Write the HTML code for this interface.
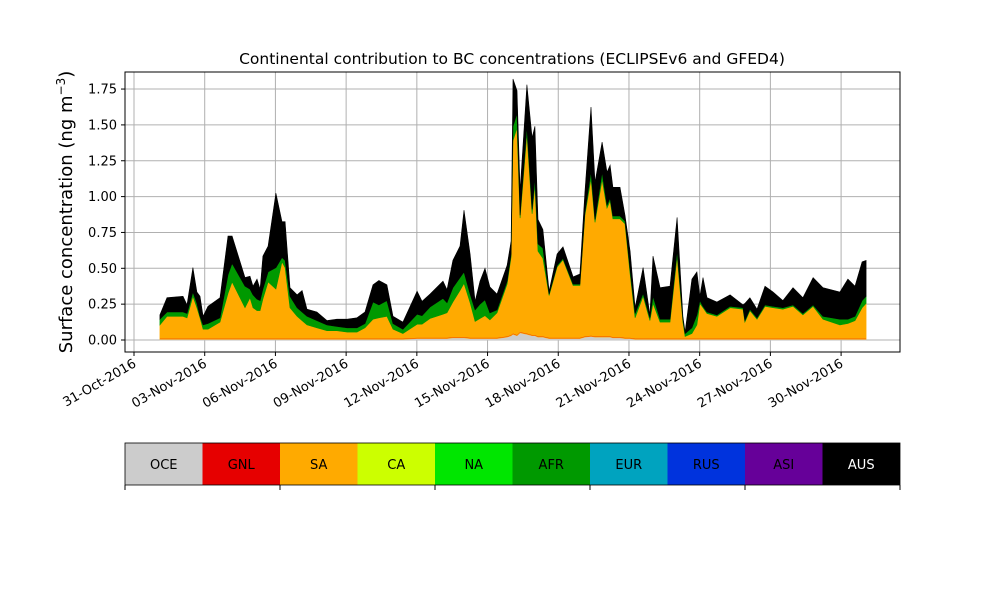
<!DOCTYPE html>
<html><head><meta charset="utf-8"><style>
body{margin:0;background:#fff;}
svg text{font-family:"DejaVu Sans","Liberation Sans",sans-serif;}
</style></head><body>
<svg id="chart" width="1000" height="600" xmlns="http://www.w3.org/2000/svg">
<rect width="1000" height="600" fill="#fff"/>
<text x="512" y="64" text-anchor="middle" font-size="15.5">Continental contribution to BC concentrations (ECLIPSEv6 and GFED4)</text>
<text transform="translate(72,212) rotate(-90)" text-anchor="middle" font-size="18">Surface concentration (ng m<tspan baseline-shift="super" font-size="12">−3</tspan>)</text>
<g id="grid"></g>
<g id="areas"></g>
<g id="axes"></g>
<g id="legend"></g>
</svg>
<script>
const days = [1.10,1.40,2.08,2.25,2.50,2.67,2.80,2.93,3.14,3.65,
3.99,4.16,4.71,4.92,5.05,5.22,5.35,5.47,5.69,6.02,
6.28,6.41,6.62,6.92,7.13,7.34,7.76,8.19,8.61,9.04,
9.46,9.80,10.14,10.39,10.73,10.99,11.41,12.01,12.22,12.56,
13.11,13.28,13.53,13.83,14.00,14.26,14.47,14.68,14.89,15.10,
15.40,15.83,16.00,16.08,16.25,16.38,16.67,16.89,17.01,17.14,
17.35,17.61,17.95,18.20,18.63,18.92,19.13,19.39,19.56,19.86,
20.07,20.20,20.32,20.62,20.83,21.05,21.26,21.60,21.89,22.02,
22.32,22.74,23.04,23.29,23.38,23.67,23.88,24.01,24.14,24.31,
24.73,25.29,25.84,25.92,26.13,26.43,26.77,27.11,27.53,27.96,
28.38,28.81,29.23,29.95,30.29,30.59,30.89,31.06];
const oce = [.005,.005,.005,.005,.005,.005,.005,.005,.005,.005,
.005,.005,.005,.005,.005,.005,.005,.005,.005,.005,
.005,.005,.005,.005,.005,.005,.005,.005,.005,.005,
.005,.005,.005,.005,.005,.005,.005,.01,.01,.01,
.01,.01,.015,.015,.015,.01,.01,.01,.01,.01,
.01,.02,.03,.04,.03,.05,.04,.03,.03,.02,
.02,.01,.01,.01,.01,.01,.02,.025,.02,.02,
.02,.02,.015,.015,.01,.01,.005,.005,.005,.005,
.005,.005,.005,.005,.005,.005,.005,.005,.005,.005,
.005,.005,.005,.005,.005,.005,.005,.005,.005,.005,
.005,.005,.005,.005,.005,.005,.005,.005];
const sa = [.10,.16,.16,.15,.30,.22,.15,.07,.07,.12,
.32,.40,.22,.29,.22,.20,.20,.28,.40,.35,
.54,.50,.22,.16,.13,.10,.08,.06,.06,.05,
.05,.08,.14,.15,.16,.07,.04,.10,.10,.14,
.17,.18,.25,.33,.38,.25,.12,.14,.16,.13,
.18,.37,.55,1.35,1.45,.80,1.40,.85,1.05,.60,
.55,.30,.50,.55,.37,.37,.85,1.10,.80,1.10,
.90,.95,.83,.83,.80,.45,.15,.30,.13,.25,
.12,.12,.58,.12,.02,.04,.10,.25,.22,.18,
.16,.22,.21,.12,.20,.14,.23,.22,.21,.23,
.17,.23,.14,.10,.11,.13,.22,.25];
const afr = [.04,.03,.03,.03,.03,.03,.01,.03,.04,.03,
.13,.13,.15,.06,.09,.08,.07,.07,.07,.15,
.03,.05,.08,.06,.06,.06,.05,.04,.03,.03,
.03,.03,.12,.09,.11,.04,.03,.07,.06,.08,
.11,.07,.10,.09,.08,.06,.08,.10,.11,.05,
.02,.02,.02,.10,.10,.02,.05,.03,.05,.05,
.07,.01,.01,.01,.01,.01,.02,.05,.02,.05,
.02,.02,.02,.02,.02,.03,.03,.02,.02,.05,
.02,.02,.04,.02,.02,.04,.07,.02,.01,.01,
.01,.01,.01,.01,.01,.01,.01,.01,.01,.01,
.01,.01,.02,.04,.03,.03,.05,.05];
const aus = [.03,.10,.11,.06,.17,.08,.14,.06,.12,.14,
.27,.19,.06,.09,.06,.14,.08,.23,.18,.52,
.25,.27,.06,.09,.15,.05,.06,.03,.05,.06,
.07,.08,.12,.17,.11,.05,.05,.16,.10,.09,
.12,.09,.19,.22,.43,.28,.06,.16,.22,.18,
.11,.11,.09,.33,.16,.17,.29,.50,.36,.17,
.13,.02,.08,.08,.05,.07,.14,.45,.26,.21,
.23,.23,.20,.20,.04,.13,.04,.18,.02,.28,
.22,.23,.23,.02,.01,.34,.30,.03,.20,.10,
.09,.08,.02,.12,.08,.06,.13,.10,.05,.12,
.11,.19,.20,.19,.28,.21,.27,.25];
const yTicks = [0,0.25,0.5,0.75,1.0,1.25,1.5,1.75];
const xTickDays = [0,3,6,9,12,15,18,21,24,27,30];
const xTickLabels = ["31-Oct-2016","03-Nov-2016","06-Nov-2016","09-Nov-2016","12-Nov-2016","15-Nov-2016","18-Nov-2016","21-Nov-2016","24-Nov-2016","27-Nov-2016","30-Nov-2016"];
const regions = ["OCE","GNL","SA","CA","NA","AFR","EUR","RUS","ASI","AUS"];
const regionColors = ["#cccccc","#e60000","#ffaa00","#ccff00","#00e600","#009900","#00a3bf","#0033dd","#660099","#000000"];

const NS="http://www.w3.org/2000/svg";
const L=125,R=900,T=72,B=352;
function xs(d){return 134+23.57*d;}
function ys(v){return 340-v*143.4;}
function mk(tag,attrs,parent){const e=document.createElementNS(NS,tag);for(const k in attrs)e.setAttribute(k,attrs[k]);parent.appendChild(e);return e;}
const grid=document.getElementById('grid'),axes=document.getElementById('axes'),areas=document.getElementById('areas'),legend=document.getElementById('legend');

yTicks.forEach(v=>{
  const g=mk('line',{x1:L,x2:R,y1:ys(v),y2:ys(v),stroke:'#b0b0b0','stroke-width':1},grid);
  
  
  mk('line',{x1:L-4,x2:L,y1:ys(v),y2:ys(v),stroke:'#000'},axes);
  const t=mk('text',{x:L-8,y:ys(v)+4.5,'text-anchor':'end','font-size':13},axes);
  t.textContent=v.toFixed(2);
  
  
});
xTickDays.forEach((d,i)=>{
  const x=xs(d);
  const g=mk('line',{x1:x,x2:x,y1:T,y2:B,stroke:'#b0b0b0','stroke-width':1},grid);
  
  
  mk('line',{x1:x,x2:x,y1:B,y2:B+4,stroke:'#000'},axes);
  const t=mk('text',{transform:`translate(${x+3},${B+14}) rotate(-30)`,'text-anchor':'end','font-size':13},axes);
  t.textContent=xTickLabels[i];
  
  
});

const layers=[[oce,'#cccccc','area-oce'],[sa,'#ffaa00','area-sa'],[afr,'#009900','area-afr'],[aus,'#000000','area-aus']];
let base=days.map(()=>0);
layers.forEach(([arr,col,name])=>{
  const top=base.map((b,i)=>b+arr[i]);
  let d='M'+days.map((dd,i)=>xs(dd).toFixed(1)+','+ys(top[i]).toFixed(1)).join('L');
  for(let i=days.length-1;i>=0;i--) d+='L'+xs(days[i]).toFixed(1)+','+ys(base[i]).toFixed(1);
  const p=mk('path',{d:d+'Z',fill:col,stroke:col,'stroke-width':0.6},areas);
  
  
  base=top;
});
const gl=mk('polyline',{points:days.map((dd,i)=>xs(dd).toFixed(1)+','+ys(oce[i]+0.003).toFixed(1)).join(' '),fill:'none',stroke:'#e60000','stroke-width':0.5,'stroke-opacity':0.6},areas);



const fr=mk('rect',{x:L,y:T,width:R-L,height:B-T,fill:'none',stroke:'#000','stroke-width':1},axes);



const cw=(R-L)/regions.length;
regions.forEach((r,i)=>{
  const c=mk('rect',{x:L+i*cw,y:443,width:cw,height:42,fill:regionColors[i]},legend);
  
  
  const t=mk('text',{x:L+i*cw+cw/2,y:469,'text-anchor':'middle','font-size':13,fill:r==='AUS'?'#fff':'#000'},legend);
  t.textContent=r;
  
  
});
const lf=mk('rect',{x:L,y:443,width:R-L,height:42,fill:'none',stroke:'#000','stroke-width':0.8},legend);


for(let i=0;i<=5;i++){
  const x=L+i*(R-L)/5;
  mk('line',{x1:x,x2:x,y1:485,y2:490,stroke:'#000'},legend);
}
</script>
</body></html>
